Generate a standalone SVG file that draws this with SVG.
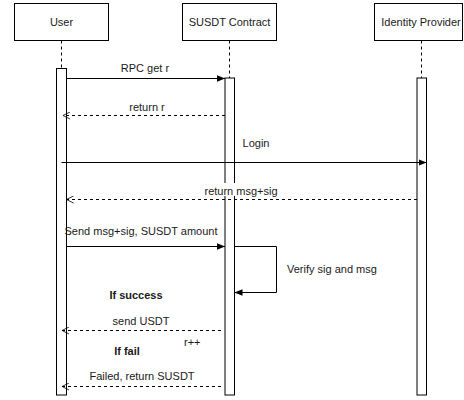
<svg xmlns="http://www.w3.org/2000/svg" width="464" height="400" viewBox="0 0 464 400">
<defs>
<marker id="block" viewBox="0 0 10 10" refX="10" refY="5" markerWidth="8" markerHeight="8" markerUnits="userSpaceOnUse" orient="auto">
<path d="M0,1 L10,5 L0,9 Z" fill="#000"/>
</marker>
<marker id="open" viewBox="0 0 10 10" refX="9" refY="5" markerWidth="8" markerHeight="8" markerUnits="userSpaceOnUse" orient="auto">
<path d="M0,0.5 L9,5 L0,9.5" fill="none" stroke="#000" stroke-width="1"/>
</marker>
</defs>
<style>
.box{fill:#fff;stroke:#000;stroke-width:1}
.life{stroke:#000;stroke-width:1;stroke-dasharray:3 3;fill:none}
.bar{fill:#fff;stroke:#000;stroke-width:1}
.msg{stroke:#000;stroke-width:1;fill:none}
.ret{stroke:#000;stroke-width:1;fill:none;stroke-dasharray:3 3}
text{font-family:"Liberation Sans",Arial,sans-serif;font-size:11px;fill:#1a1a1a}
.c{text-anchor:middle}
.b{font-weight:bold}
</style>
<rect width="464" height="400" fill="#fff"/>
<g id="user">
<rect class="box" x="14.5" y="3.5" width="94" height="37"/>
<text class="c" x="61.5" y="26">User</text>
<line class="life" x1="61.5" y1="40.5" x2="61.5" y2="68.5"/>
<rect class="bar" x="56.5" y="68.5" width="10" height="326.5"/>
</g>
<g id="susdt">
<rect class="box" x="182.5" y="3.5" width="94" height="37"/>
<text class="c" x="229.5" y="26">SUSDT Contract</text>
<line class="life" x1="229.5" y1="40.5" x2="229.5" y2="78"/>
<rect class="bar" x="225" y="78" width="9.5" height="317"/>
</g>
<g id="idp">
<rect class="box" x="374.5" y="3.5" width="88" height="37"/>
<text class="c" x="421" y="26">Identity Provider</text>
<line class="life" x1="421.5" y1="40.5" x2="421.5" y2="78"/>
<rect class="bar" x="417" y="78" width="9.5" height="317"/>
</g>
<g id="connectors">
<line class="msg" x1="66.5" y1="78.5" x2="225" y2="78.5" marker-end="url(#block)"/>
<line class="ret" x1="225" y1="115.5" x2="63" y2="115.5" marker-end="url(#open)"/>
<line class="msg" x1="61.5" y1="162.5" x2="426.5" y2="162.5" marker-end="url(#block)"/>
<line class="ret" x1="417" y1="199.5" x2="66.5" y2="199.5" marker-end="url(#open)"/>
<line class="msg" x1="66.5" y1="246.5" x2="225" y2="246.5" marker-end="url(#block)"/>
<path class="msg" d="M234.5,246.5 H276.5 V292.5 H234.5" marker-end="url(#block)"/>
<line class="ret" x1="221" y1="330.5" x2="62" y2="330.5" marker-end="url(#open)"/>
<line class="ret" x1="221" y1="386.5" x2="62" y2="386.5" marker-end="url(#open)"/>
</g>
<g id="labels">
<text class="c" x="145" y="72">RPC get r</text>
<text class="c" x="147" y="110.5">return r</text>
<text class="c" x="256" y="147">Login</text>
<rect x="204" y="183" width="75" height="13" fill="#fff"/>
<text class="c" x="241" y="194.5">return msg+sig</text>
<text class="c" x="141" y="235">Send msg+sig, SUSDT amount</text>
<text x="287" y="273">Verify sig and msg</text>
<text class="c b" x="136" y="299">If success</text>
<text class="c" x="141" y="325">send USDT</text>
<text x="184" y="345.5">r++</text>
<text class="c b" x="127" y="355">If fail</text>
<text class="c" x="142" y="379.5">Failed, return SUSDT</text>
</g>
</svg>
